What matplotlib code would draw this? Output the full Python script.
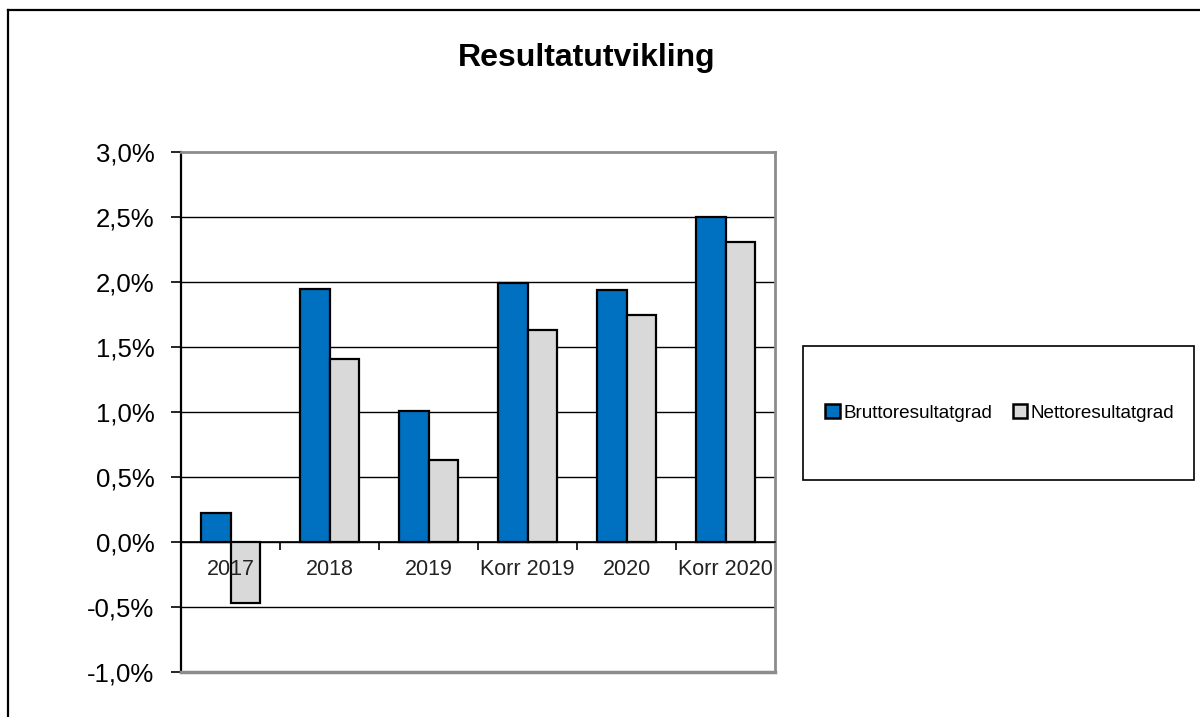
import matplotlib
matplotlib.use('Agg')
import matplotlib.pyplot as plt
import numpy as np
from matplotlib.patches import Rectangle
from matplotlib.lines import Line2D
from matplotlib.ticker import FuncFormatter

plt.rcParams['font.family'] = ['Liberation Sans', 'DejaVu Sans']

categories = ['2017', '2018', '2019', 'Korr 2019', '2020', 'Korr 2020']
brutto = [0.22, 1.95, 1.01, 1.99, 1.94, 2.50]
netto = [-0.47, 1.41, 0.63, 1.63, 1.75, 2.31]
series_names = ['Bruttoresultatgrad', 'Nettoresultatgrad']
colors = ['#0070C0', '#D9D9D9']

fig = plt.figure(figsize=(12, 7.17), dpi=100)
fig.patch.set_facecolor('white')

# ytre ramme (går ut over høyre og nedre kant)
fig.add_artist(Line2D([8/1200, 8/1200], [0, 1 - 10/717], color='black', lw=1.6))
fig.add_artist(Line2D([8/1200, 1], [1 - 10/717, 1 - 10/717], color='black', lw=1.6))

ax = fig.add_axes([181/1200, 1 - 672/717, (775 - 181)/1200, (672 - 152)/717])
x = np.arange(len(categories))
w = 0.293

for yv in np.arange(-0.5, 3.0, 0.5):
    ax.axhline(yv, color='black', lw=1.0, zorder=1)

ax.bar(x - w/2, brutto, w, color=colors[0], edgecolor='black', linewidth=1.6, zorder=2, label=series_names[0])
ax.bar(x + w/2, netto, w, color=colors[1], edgecolor='black', linewidth=1.6, zorder=2, label=series_names[1])

ax.set_xlim(-0.5, len(categories) - 0.5)
ax.set_ylim(-1.0, 3.0)
ax.set_yticks(np.arange(-1.0, 3.01, 0.5))
ax.yaxis.set_major_formatter(FuncFormatter(lambda v, p: f'{v:.1f}%'.replace('.', ',')))
ax.tick_params(axis='y', labelsize=18.5, length=7, width=1.2, direction='out', pad=12)

ax.spines['bottom'].set_position(('data', 0))
ax.spines['bottom'].set_color('black')
ax.spines['bottom'].set_linewidth(1.2)
ax.spines['left'].set_linewidth(1.6)
ax.spines['top'].set_color('#8C8C8C')
ax.spines['right'].set_color('#8C8C8C')
ax.spines['top'].set_linewidth(2)
ax.spines['right'].set_linewidth(2)
ax.axhline(-1.0, color='#8C8C8C', lw=2.5, clip_on=False, zorder=3)

ax.set_xticks(np.arange(0.5, len(categories) - 0.5, 1.0))
ax.set_xticklabels([])
ax.tick_params(axis='x', length=6, width=1.2, direction='out')

for i, lab in enumerate(categories):
    ax.annotate(lab, (i, 0), xytext=(0, -12), textcoords='offset points',
                ha='center', va='top', fontsize=15.5, color='#222222', zorder=5)

fig.text(587/1200, 1 - 58/717, 'Resultatutvikling', ha='center', va='center',
         fontsize=23, fontweight='bold')

# legende med egen ramme
fig.add_artist(Rectangle((803/1200, 1 - 480/717), (1194 - 803)/1200, (480 - 346)/717,
                         transform=fig.transFigure, fill=False, edgecolor='black', lw=1.2))
handles = [Rectangle((0, 0), 1, 1, facecolor=c, edgecolor='black', lw=1.8) for c in colors]
fig.legend(handles, series_names, loc='center', bbox_to_anchor=(1000/1200, 1 - 413/717),
           ncol=2, frameon=False, fontsize=13.6, handlelength=0.75, handleheight=0.75,
           handletextpad=0.2, columnspacing=1.1)

fig.savefig('out.png', dpi=100, facecolor='white')
